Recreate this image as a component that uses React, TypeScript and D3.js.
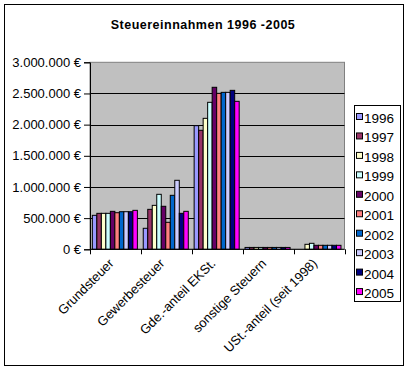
import React, { useEffect, useRef } from "react";
import * as d3 from "d3";

const categories = [
  "Grundsteuer",
  "Gewerbesteuer",
  "Gde.-anteil EKSt.",
  "sonstige Steuern",
  "USt.-anteil (seit 1998)",
];
const years = ["1996", "1997", "1998", "1999", "2000", "2001", "2002", "2003", "2004", "2005"];

// one array per category, values per year (1996..2005)
const grundsteuer = [545000, 577000, 577000, 577000, 609000, 587000, 603000, 603000, 603000, 625000];
const gewerbesteuer = [337000, 641000, 705000, 882000, 690000, 433000, 866000, 1107000, 577000, 609000];
const gdeAnteilEKSt = [1983000, 1909000, 2101000, 2358000, 2599000, 2502000, 2518000, 2518000, 2550000, 2374000];
const sonstigeSteuern = [30000, 30000, 30000, 30000, 30000, 30000, 30000, 30000, 30000, 30000];
const ustAnteil = [0, 0, 80000, 96000, 64000, 64000, 64000, 64000, 64000, 64000];

const yTicks = [0, 500000, 1000000, 1500000, 2000000, 2500000, 3000000];

const colors = [
  "#9999FF",
  "#993366",
  "#FFFFCC",
  "#CCFFFF",
  "#660066",
  "#FF8080",
  "#0066CC",
  "#CCCCFF",
  "#000080",
  "#FF00FF",
];

const W = 409;
const H = 371;

const Chart: React.FC = () => {
  const ref = useRef<SVGSVGElement | null>(null);

  useEffect(() => {
    if (!ref.current) return;
    const svg = d3.select(ref.current);
    svg.selectAll("*").remove();

    const values = [grundsteuer, gewerbesteuer, gdeAnteilEKSt, sonstigeSteuern, ustAnteil];
    const font = "'Liberation Sans', Arial, sans-serif";

    const left = 90;
    const right = 344.5;
    const top = 62.3;
    const bottom = 249.3;

    // chart border
    svg
      .append("rect")
      .attr("x", 4.5)
      .attr("y", 4.5)
      .attr("width", 399)
      .attr("height", 361)
      .attr("fill", "#fff")
      .attr("stroke", "#000");

    svg
      .append("text")
      .attr("x", 203)
      .attr("y", 29)
      .attr("text-anchor", "middle")
      .style("font-family", font)
      .style("font-size", "12.5px")
      .style("font-weight", "bold")
      .style("letter-spacing", "0.5px")
      .text("Steuereinnahmen 1996 -2005");

    const x0 = d3.scaleBand<string>().domain(categories).range([left, right]).padding(0);
    const x1 = d3
      .scaleBand<string>()
      .domain(years)
      .range([0, x0.bandwidth()])
      .paddingInner(0)
      .paddingOuter(0.65)
      .align(0.4);
    const y = d3.scaleLinear().domain([0, 3000000]).range([bottom, top]);

    // plot area
    svg
      .append("rect")
      .attr("x", left)
      .attr("y", top)
      .attr("width", right - left)
      .attr("height", bottom - top)
      .attr("fill", "#C0C0C0")
      .attr("stroke", "#808080");

    // gridlines
    svg
      .append("g")
      .selectAll("line")
      .data(yTicks.slice(1, -1))
      .enter()
      .append("line")
      .attr("x1", left)
      .attr("x2", right)
      .attr("y1", (d) => Math.round(y(d)) + 0.5)
      .attr("y2", (d) => Math.round(y(d)) + 0.5)
      .attr("stroke", "#000");

    // bars
    const groups = svg
      .append("g")
      .selectAll("g")
      .data(categories)
      .enter()
      .append("g")
      .attr("transform", (c) => `translate(${x0(c)},0)`);

    groups
      .selectAll("rect")
      .data((c, i) => values[i].map((v, j) => ({ year: years[j], v, j })))
      .enter()
      .filter((d) => d.v > 0)
      .append("rect")
      .attr("x", (d) => x1(d.year) as number)
      .attr("y", (d) => y(d.v))
      .attr("width", x1.bandwidth())
      .attr("height", (d) => bottom - y(d.v))
      .attr("fill", (d) => colors[d.j])
      .attr("stroke", "#000")
      .attr("stroke-width", 1);

    // y axis
    const yAxis = d3
      .axisLeft(y)
      .tickValues(yTicks)
      .tickSize(6)
      .tickPadding(3)
      .tickFormat((d) => d3.format(",")(d as number).replace(/,/g, ".") + " €");
    const ya = svg.append("g").attr("transform", `translate(${left},0)`).call(yAxis);
    ya.selectAll("path,line").attr("stroke", "#000");
    ya.selectAll("text")
      .style("font-family", font)
      .style("font-size", "13px")
      .attr("fill", "#000");

    // x axis
    svg
      .append("line")
      .attr("x1", left)
      .attr("x2", right)
      .attr("y1", bottom)
      .attr("y2", bottom)
      .attr("stroke", "#000");
    const xb = categories.map((c) => x0(c) as number).concat([right]);
    svg
      .append("g")
      .selectAll("line")
      .data(xb)
      .enter()
      .append("line")
      .attr("x1", (d) => Math.round(d) + 0.5)
      .attr("x2", (d) => Math.round(d) + 0.5)
      .attr("y1", bottom)
      .attr("y2", bottom + 5)
      .attr("stroke", "#000");

    svg
      .append("g")
      .selectAll("text")
      .data(categories)
      .enter()
      .append("text")
      .attr(
        "transform",
        (c) => `translate(${(x0(c) as number) + x0.bandwidth() / 2 - 1},${bottom + 15}) rotate(-45)`
      )
      .attr("text-anchor", "end")
      .style("font-family", font)
      .style("font-size", "13px")
      .text((c) => c);

    // legend
    const lg = svg.append("g");
    lg.append("rect")
      .attr("x", 354.5)
      .attr("y", 105.5)
      .attr("width", 46)
      .attr("height", 196)
      .attr("fill", "#fff")
      .attr("stroke", "#000");
    years.forEach((yr, i) => {
      const row = lg.append("g").attr("transform", `translate(0,${118 + i * 19.45})`);
      row
        .append("rect")
        .attr("x", 356.5)
        .attr("y", -4.5)
        .attr("width", 6)
        .attr("height", 6)
        .attr("fill", colors[i])
        .attr("stroke", "#000");
      row
        .append("text")
        .attr("x", 364)
        .attr("y", 5)
        .style("font-family", font)
        .style("font-size", "13.5px")
        .text(yr);
    });
  }, []);

  return <svg ref={ref} width={W} height={H} style={{ display: "block" }}></svg>;
};

export default function App() {
  return (
    <div style={{ position: "absolute", left: 0, top: 0 }}>
      <Chart />
    </div>
  );
}
